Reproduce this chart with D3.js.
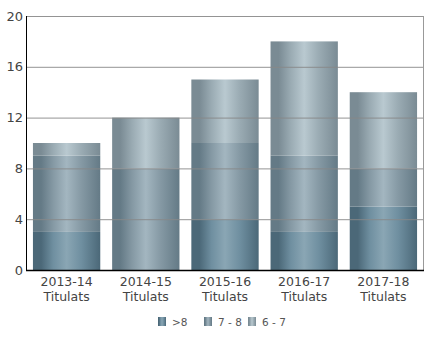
<!DOCTYPE html>
<html>
<head>
<meta charset="utf-8">
<script src="https://cdn.jsdelivr.net/npm/d3@7"></script>
<style>
  body { margin: 0; background: #fff; }
  svg { display: block; font-family: "DejaVu Sans", sans-serif; }
</style>
</head>
<body>
<div id="chart"></div>
<script>
// Chart data
const years = ['2013-14', '2014-15', '2015-16', '2016-17', '2017-18'];
const series = ['>8', '7 - 8', '6 - 7'];
const above8 = [3, 0, 4, 3, 5];
const from7to8 = [6, 8, 6, 6, 3];
const from6to7 = [1, 4, 5, 9, 6];
const yTicks = [0, 4, 8, 12, 16, 20];

// gradient stops per series: edge, mid, light
const shades = [
    ['#4b6878', '#6f8fa0', '#8aa6b4'],
    ['#647a86', '#8599a4', '#a3b6c0'],
    ['#7a8b94', '#9aabb3', '#b9c9d0']
];

const width = 430, height = 348;
const margin = { top: 16, right: 7, bottom: 78, left: 27 };
const innerW = width - margin.left - margin.right;
const innerH = height - margin.top - margin.bottom;

const svg = d3.select('#chart').append('svg')
    .attr('width', width)
    .attr('height', height);

const defs = svg.append('defs');
shades.forEach((s, i) => {
    const g = defs.append('linearGradient')
        .attr('id', 'grad' + i)
        .attr('x1', '0%').attr('x2', '100%')
        .attr('y1', '0%').attr('y2', '0%');
    g.append('stop').attr('offset', '0%').attr('stop-color', s[0]);
    g.append('stop').attr('offset', '12%').attr('stop-color', s[0]);
    g.append('stop').attr('offset', '30%').attr('stop-color', s[1]);
    g.append('stop').attr('offset', '50%').attr('stop-color', s[2]);
    g.append('stop').attr('offset', '72%').attr('stop-color', s[1]);
    g.append('stop').attr('offset', '100%').attr('stop-color', s[0]);
});

const g = svg.append('g').attr('transform', `translate(${margin.left},${margin.top})`);

const x = d3.scaleBand()
    .domain(years)
    .range([0, innerW])
    .paddingInner(0.15)
    .paddingOuter(0.075);

const y = d3.scaleLinear()
    .domain([0, 20])
    .range([innerH, 0]);

// Build stacked data
const rows = years.map((yr, i) => ({
    year: yr,
    '>8': above8[i],
    '7 - 8': from7to8[i],
    '6 - 7': from6to7[i]
}));
const stacked = d3.stack().keys(series)(rows);

// Bars
g.selectAll('g.layer')
    .data(stacked)
    .join('g')
    .attr('class', 'layer')
    .attr('fill', (d, i) => `url(#grad${i})`)
    .selectAll('rect')
    .data(d => d)
    .join('rect')
    .attr('x', d => x(d.data.year))
    .attr('width', x.bandwidth())
    .attr('y', d => y(d[1]))
    .attr('height', d => y(d[0]) - y(d[1]));

// Gridlines over bars
g.append('g')
    .selectAll('line')
    .data(yTicks.slice(1))
    .join('line')
    .attr('x1', 0)
    .attr('x2', innerW)
    .attr('y1', d => y(d) + 0.5)
    .attr('y2', d => y(d) + 0.5)
    .attr('stroke', '#888')
    .attr('stroke-opacity', 0.9)
    .attr('stroke-width', 1);

// right border
g.append('line')
    .attr('x1', innerW + 0.5).attr('x2', innerW + 0.5)
    .attr('y1', 0).attr('y2', innerH)
    .attr('stroke', '#999');

// Axes lines
g.append('line')
    .attr('x1', -0.5).attr('x2', -0.5)
    .attr('y1', 0).attr('y2', innerH + 1)
    .attr('stroke', '#000');
g.append('line')
    .attr('x1', -1).attr('x2', innerW + 1)
    .attr('y1', innerH + 0.5).attr('y2', innerH + 0.5)
    .attr('stroke', '#000')
    .attr('stroke-width', 1.5);

// Y tick labels
g.append('g')
    .selectAll('text')
    .data(yTicks)
    .join('text')
    .attr('x', -4)
    .attr('y', d => y(d))
    .attr('dy', '0.35em')
    .attr('text-anchor', 'end')
    .attr('font-size', 13)
    .attr('fill', '#444')
    .text(d => d);

// X labels
const xl = g.append('g')
    .selectAll('text')
    .data(years)
    .join('text')
    .attr('text-anchor', 'middle')
    .attr('font-size', 12.5)
    .attr('fill', '#444')
    .attr('transform', d => `translate(${x(d) + x.bandwidth() / 2},${innerH})`);
xl.append('tspan').attr('x', 0).attr('y', 16).text(d => d);
xl.append('tspan').attr('x', 0).attr('y', 31).text('Titulats');

// Legend
const legendX = [158, 204, 248];
const legend = svg.append('g')
    .selectAll('g')
    .data(series)
    .join('g')
    .attr('transform', (d, i) => `translate(${legendX[i]},317)`);
legend.append('rect')
    .attr('width', 8)
    .attr('height', 9)
    .attr('fill', (d, i) => `url(#grad${i})`);
legend.append('text')
    .attr('x', 14)
    .attr('y', 8.5)
    .attr('font-size', 10.5)
    .attr('fill', '#555')
    .text(d => d);
</script>
</body>
</html>
